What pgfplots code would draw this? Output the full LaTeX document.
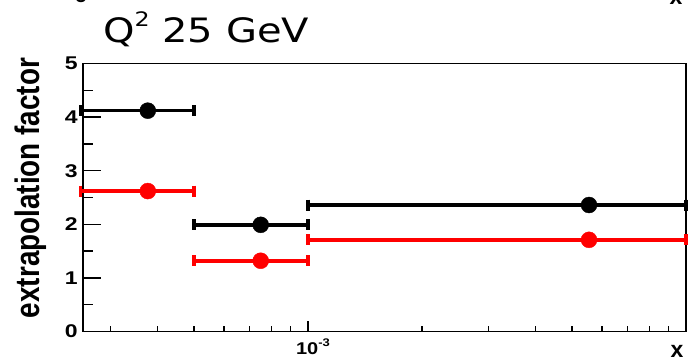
\documentclass[border=0pt]{standalone}
\usepackage{pgfplots}
\pgfplotsset{compat=1.18}
\usepackage{fontspec}
\setmainfont{Liberation Sans}
\newfontfamily\titlefont{DejaVu Sans}
\usepackage{graphicx}
\definecolor{rootred}{RGB}{255,0,0}
\newcommand\tl[1]{\scalebox{1}[0.8]{\fontsize{23bp}{23bp}\selectfont\bfseries #1}}

\begin{document}
\begin{tikzpicture}
\useasboundingbox (0,0) rectangle (698bp,361bp);
\begin{axis}[
  at={(83bp,29.5bp)}, anchor=south west,
  scale only axis, width=603bp, height=268bp,
  xmode=log, xmin=2.54e-4, xmax=1e-2,
  ymin=0, ymax=5,
  ytick={0,1,2,3,4,5},
  yticklabels={\tl{0},\tl{1},\tl{2},\tl{3},\tl{4},\tl{5}},
  minor ytick={0.5,1.5,2.5,3.5,4.5},
  xtick={1e-3},
  xticklabels={\scalebox{1}[0.85]{\fontsize{20bp}{20bp}\selectfont\bfseries 10\raisebox{0.5em}{\fontsize{13bp}{13bp}\selectfont -3}}},
  minor xtick={3e-4,4e-4,5e-4,6e-4,7e-4,8e-4,9e-4,2e-3,3e-3,4e-3,5e-3,6e-3,7e-3,8e-3,9e-3},
  tick align=inside,
  xtick pos=bottom, ytick pos=left,
  axis line style={line width=1.8bp},
  every tick/.style={black, line width=1.5bp},
  major tick length=18bp, minor tick length=10bp,
  x tick style={/pgfplots/major tick length=10bp,/pgfplots/minor tick length=5bp},
  yticklabel style={inner sep=0pt, xshift=-5bp},
  xticklabel style={inner sep=0pt, yshift=-7bp, xshift=5bp},
  clip=false,
  bin/.style={line width=3.6bp, mark=|, mark size=5.5bp, mark options={solid, line width=3.6bp}},
]
% black bins
\addplot[black, bin] coordinates {(2.5e-4,4.12) (5e-4,4.12)};
\addplot[black, bin] coordinates {(5e-4,1.99) (1e-3,1.99)};
\addplot[black, bin] coordinates {(1e-3,2.36) (1e-2,2.36)};
% red bins
\addplot[rootred, bin] coordinates {(2.5e-4,2.62) (5e-4,2.62)};
\addplot[rootred, bin] coordinates {(5e-4,1.32) (1e-3,1.32)};
\addplot[rootred, bin] coordinates {(1e-3,1.71) (1e-2,1.71)};
% points
\addplot[black, only marks, mark=*, mark size=8bp, mark options={fill=black, draw=black}]
  coordinates {(3.77e-4,4.12) (7.5e-4,1.99) (5.54e-3,2.36)};
\addplot[rootred, only marks, mark=*, mark size=8bp, mark options={fill=rootred, draw=rootred}]
  coordinates {(3.77e-4,2.62) (7.5e-4,1.32) (5.54e-3,1.71)};
\end{axis}
\node[anchor=base west, inner sep=0pt] at (103bp,318bp)
  {\scalebox{1.25}[1.05]{\titlefont\fontsize{32bp}{32bp}\selectfont Q\raisebox{0.5em}{\fontsize{19bp}{19bp}\selectfont 2} 25 GeV}};
\node[rotate=90, inner sep=0pt] at (31bp,173bp)
  {\scalebox{0.82}[1]{\fontsize{34bp}{34bp}\selectfont\bfseries extrapolation factor}};
\node[anchor=base, inner sep=0pt] at (677bp,4bp) {\fontsize{23bp}{23bp}\selectfont\bfseries x};
\node[anchor=base, inner sep=0pt] at (81bp,358bp) {\tl{0}};
\node[anchor=base, inner sep=0pt] at (676bp,356bp) {\fontsize{23bp}{23bp}\selectfont\bfseries x};
\end{tikzpicture}
\end{document}
